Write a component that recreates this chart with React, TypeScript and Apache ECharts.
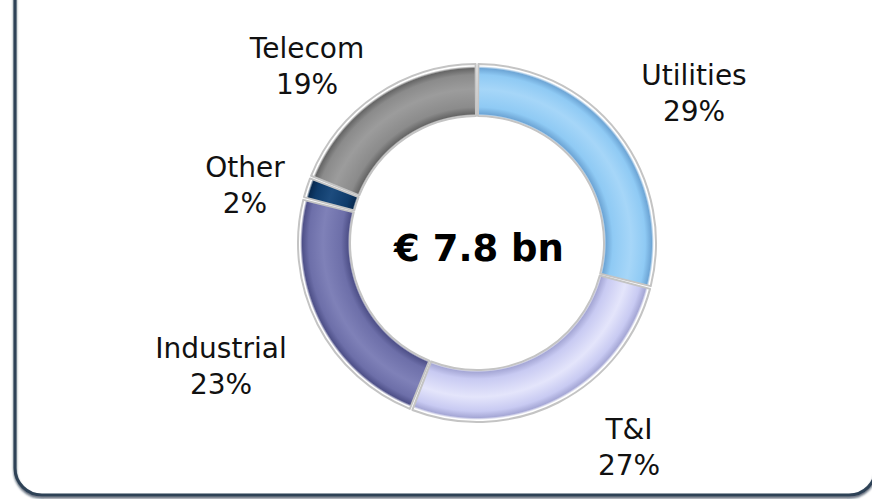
import React, { useEffect, useRef } from "react";
import * as echarts from "echarts";

const categories = ["Utilities", "T&I", "Industrial", "Other", "Telecom"];
const shares = [29, 27, 23, 2, 19];
const totalLabel = "€ 7.8 bn";

const baseColors = ["#8fcaf4", "#c8caf2", "#6d6fa9", "#0e3b6a", "#8b8b8b"];
const darkColors = ["#6ea6d6", "#a6a8d6", "#4f5189", "#082a50", "#666666"];
const lightColors = ["#a6d6f8", "#e4e5fb", "#7f81b8", "#1d4c7e", "#9c9c9c"];
const labelPos = [
  [694, 93],
  [629, 447],
  [221, 366],
  [245, 185],
  [307, 66],
];

const CX = 477;
const CY = 243;
const R_OUT = 179;
const R_IN = 127;

function ringGradient(i: number) {
  const k = R_IN / R_OUT;
  return {
    type: "radial",
    x: CX,
    y: CY,
    r: R_OUT,
    global: true,
    colorStops: [
      { offset: 0, color: "#ffffff" },
      { offset: k, color: "#ffffff" },
      { offset: k + 0.012, color: darkColors[i] },
      { offset: k + 0.05, color: baseColors[i] },
      { offset: 0.86, color: lightColors[i] },
      { offset: 0.94, color: baseColors[i] },
      { offset: 0.975, color: darkColors[i] },
      { offset: 0.988, color: "#ffffff" },
      { offset: 1, color: "#ffffff" },
    ],
  };
}

export default function App() {
  const ref = useRef<HTMLDivElement>(null);
  useEffect(() => {
    if (!ref.current) return;
    const chart = echarts.init(ref.current, undefined, { renderer: "svg" });
    const data = categories.map((name, i) => ({
      name,
      value: shares[i],
      itemStyle: { color: ringGradient(i) },
    }));
    chart.setOption({
      animation: false,
      backgroundColor: "#ffffff",
      graphic: [
        {
          type: "rect",
          shape: { x: 15, y: -50, width: 861, height: 545, r: 27 },
          style: {
            fill: "none",
            stroke: "#2e4257",
            lineWidth: 3,
            shadowColor: "rgba(20,35,55,0.7)",
            shadowBlur: 2,
            shadowOffsetY: 2,
          },
          silent: true,
          z: 10,
        },
        {
          type: "text",
          x: CX + 2,
          y: CY + 5,
          style: {
            text: totalLabel,
            fontFamily: "DejaVu Sans",
            fontWeight: "bold",
            fontSize: 37,
            fill: "#000000",
            textAlign: "center",
            textVerticalAlign: "middle",
          },
          z: 20,
        },
      ],
      series: [
        {
          type: "pie",
          center: [CX, CY],
          radius: [R_IN, R_OUT],
          startAngle: 90,
          clockwise: true,
          padAngle: 0.9,
          data,
          itemStyle: {
            borderColor: "#c4c4c4",
            borderWidth: 2,
          },
          label: {
            show: true,
            position: "outside",
            formatter: "{b}\n{c}%",
            fontFamily: "DejaVu Sans",
            fontSize: 28,
            lineHeight: 36,
            color: "#111111",
          },
          labelLine: { show: false },
          labelLayout: (params: any) => {
            const p = labelPos[params.dataIndex];
            return { x: p[0], y: p[1], align: "center", verticalAlign: "middle" };
          },
          emphasis: { disabled: true },
        },
      ],
    });
    return () => chart.dispose();
  }, []);
  return (
    <div
      ref={ref}
      style={{ position: "fixed", left: 0, top: 0, width: 872, height: 499 }}
    />
  );
}
